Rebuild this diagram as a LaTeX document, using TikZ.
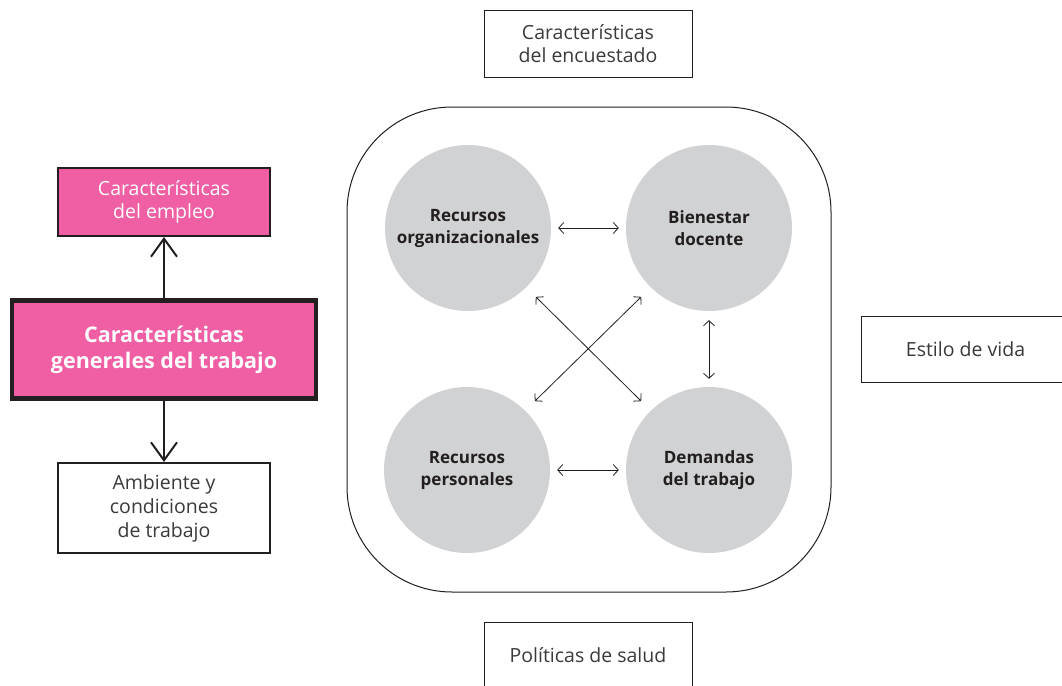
\documentclass[tikz,border=0pt]{standalone}
\usepackage{fontspec}
\setmainfont{Open Sans}
\usetikzlibrary{arrows.meta}
\definecolor{rosa}{HTML}{F05FA3}
\definecolor{gris}{HTML}{D1D2D4}
\definecolor{tinta}{HTML}{231F20}
\definecolor{texto}{HTML}{3A3A3A}
\begin{document}
\begin{tikzpicture}[x=1pt,y=-1pt,
  plainbox/.style={draw=tinta,line width=1pt,fill=white,minimum width=208pt,minimum height=66pt,
    align=center,inner sep=0pt,text=texto,font=\fontsize{19.5}{23}\selectfont},
  pinkbox/.style={draw=tinta,line width=2pt,fill=rosa,align=center,inner sep=0pt,
    text=white,font=\fontsize{19.5}{23}\selectfont},
  sidebox/.style={draw=tinta,line width=2pt,fill=white,align=center,inner sep=0pt,
    text=texto,font=\fontsize{19.5}{24}\selectfont},
  factor/.style={circle,fill=gris,minimum size=166pt,inner sep=0pt,align=center,
    text=tinta,font=\bfseries\fontsize{17}{22}\selectfont},
  link/.style={draw=tinta,line width=0.8pt,{Straight Barb[length=5pt,width=11pt]}-{Straight Barb[length=5pt,width=11pt]}},
  bigarrow/.style={draw=tinta,line width=2pt,-{Straight Barb[length=18pt,width=26pt,line width=2pt]}}]
\useasboundingbox (0,0) rectangle (1062,685);
\begin{scope}
\clip (0,0) rectangle (1062,685);
% outer frame holding the four factors
\draw[tinta,line width=1pt,rounded corners=105pt] (347,107) rectangle (831,592);
% surrounding context boxes
\node[plainbox] (enc) at (588,44) {Características\\del encuestado};
\node[plainbox,anchor=north] (sal) at (588,622) {Políticas de salud};
\node[plainbox,anchor=west] (est) at (861,349) {Estilo de vida};
\end{scope}
% factors
\node[factor] (ro) at (468,228) {Recursos\\organizacionales};
\node[factor] (bd) at (709,228) {Bienestar\\docente};
\node[factor] (rp) at (467,470) {Recursos\\personales};
\node[factor] (dt) at (709,470) {Demandas\\del trabajo};
\draw[link] ([xshift=7pt]ro.east) -- ([xshift=-7pt]bd.west);
\draw[link] ([xshift=7pt]rp.east) -- ([xshift=-7pt]dt.west);
\draw[link] ([yshift=-9pt]bd.south) -- ([yshift=8pt]dt.north);
\draw[link] ([shift={(9pt,-10pt)}]ro.-45) -- ([shift={(-9pt,10pt)}]dt.135);
\draw[link] ([shift={(-9pt,-10pt)}]bd.-135) -- ([shift={(9pt,10pt)}]rp.45);
% work characteristics column
\node[pinkbox,minimum width=304pt,minimum height=98pt,line width=4.5pt,
  font=\bfseries\fontsize{21.5}{26}\selectfont] (gen) at (164,349.5) {Características\\generales del trabajo};
\node[pinkbox,minimum width=212pt,minimum height=68pt] (emp) at (164,202) {Características\\del empleo};
\node[sidebox,minimum width=212pt,minimum height=90pt] (amb) at (164,508) {Ambiente y\\condiciones\\de trabajo};
\draw[bigarrow] (gen.north) -- (emp.south);
\draw[bigarrow] (gen.south) -- (amb.north);
\end{tikzpicture}
\end{document}
